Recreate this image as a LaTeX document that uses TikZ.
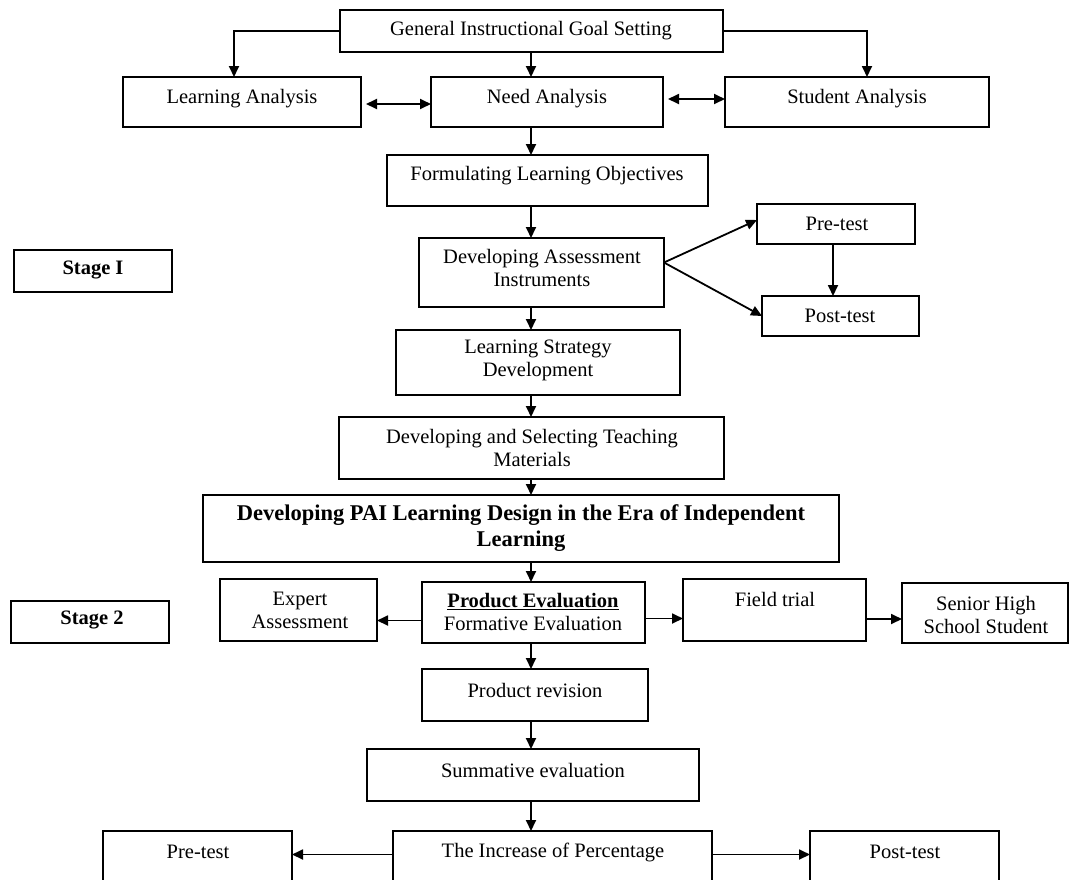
\documentclass[tikz,border=0pt]{standalone}
\usepackage{fontspec}
\setmainfont{Liberation Serif}
\usetikzlibrary{arrows.meta,calc}
\newcommand{\mybox}[5]{\node[box,minimum width={(#4)-(#2)},minimum height={(#5)-(#3)}] (#1) at ({((#2)+(#4))/2},{((#3)+(#5))/2}) {};}
\begin{document}
\begin{tikzpicture}[x=1pt,y=-1pt,
  box/.style={draw,line width=1.7pt,inner sep=0pt,outer sep=0pt},
  txt/.style={font=\fontsize{20.5}{23}\selectfont,align=center,inner sep=0pt},
  btxt/.style={font=\fontsize{20.5}{23}\selectfont\bfseries,align=center,inner sep=0pt},
  arr/.style={line width=1.8pt,-{Triangle[length=11pt,width=10pt]}},
  darr/.style={line width=1.8pt,{Triangle[length=11pt,width=10pt]}-{Triangle[length=11pt,width=10pt]}}]
\useasboundingbox (0,0) rectangle (1071,879);
\clip (0,0) rectangle (1071,879);
\fill[white] (0,0) rectangle (1071,879);
% boxes
\mybox{goal}{340}{10}{723}{52}
\mybox{la}{123}{77}{361}{127}
\mybox{na}{431}{77}{663}{127}
\mybox{sa}{725}{77}{989}{127}
\mybox{flo}{387}{155}{708}{206}
\mybox{dai}{419}{238}{664}{307}
\mybox{pre1}{757}{204}{915}{244}
\mybox{post1}{762}{296}{919}{336}
\mybox{stage1}{14}{250}{172}{292}
\mybox{lsd}{396}{330}{680}{395}
\mybox{dstm}{339}{417}{724}{479}
\mybox{dpai}{203}{495}{839}{562}
\mybox{stage2}{11}{601}{169}{643}
\mybox{ea}{220}{579}{377}{641}
\mybox{pe}{422}{582}{645}{643}
\mybox{ft}{683}{579}{866}{641}
\mybox{sh}{902}{583}{1068}{643}
\mybox{pr}{422}{669}{648}{721}
\mybox{se}{367}{749}{699}{801}
\mybox{iop}{393}{831}{712}{900}
\mybox{pre2}{103}{831}{292}{900}
\mybox{post2}{810}{831}{999}{900}
% texts
\node[txt] (t-goal) at (531,31) {General Instructional Goal Setting};
\node[txt] (t-la) at (242,99) {Learning Analysis};
\node[txt] (t-na) at (547,99) {Need Analysis};
\node[txt] (t-sa) at (857,99) {Student Analysis};
\node[txt] (t-flo) at (547,176) {Formulating Learning Objectives};
\node[txt] (t-dai) at (542,268) {Developing Assessment\\Instruments};
\node[txt] (t-pre1) at (837,224) {Pre-test};
\node[txt] (t-post1) at (840,316) {Post-test};
\node[btxt] (t-stage1) at (93,270) {Stage I};
\node[txt] (t-lsd) at (538,360) {Learning Strategy\\Development};
\node[txt] (t-dstm) at (532,448) {Developing and Selecting Teaching\\Materials};
\node[btxt,font=\fontsize{22.5}{26}\selectfont\bfseries] (t-dpai) at (521,528) {Developing PAI Learning Design in the Era of Independent\\Learning};
\node[btxt] (t-stage2) at (92,620) {Stage 2};
\node[txt] (t-ea) at (300,610) {Expert\\Assessment};
\node[txt] (t-pe) at (533,612) {\underline{\textbf{Product Evaluation}}\\Formative Evaluation};
\node[txt] (t-ft) at (775,599) {Field trial};
\node[txt] (t-sh) at (986,615) {Senior High\\School Student};
\node[txt] (t-pr) at (535,690) {Product revision};
\node[txt] (t-se) at (533,770) {Summative evaluation};
\node[txt] (t-iop) at (553,852) {The Increase of Percentage};
\node[txt] (t-pre2) at (198,852) {Pre-test};
\node[txt] (t-post2) at (905,852) {Post-test};
% connectors
\coordinate (ax) at (531,0);
\draw[arr] (goal.west) -| ([xshift=-8pt]la.north);
\draw[arr] (goal.east) -| ([xshift=10pt]sa.north);
\draw[arr] (ax |- goal.south) -- (ax |- na.north);
\draw[darr] ([xshift=5pt,yshift=-2pt]la.east) -- ([yshift=-2pt]na.west);
\draw[darr] ([xshift=5pt,yshift=3pt]na.east) -- ([yshift=3pt]sa.west);
\draw[arr] (ax |- na.south) -- (ax |- flo.north);
\draw[arr] (ax |- flo.south) -- (ax |- dai.north);
\draw[arr] ([yshift=10pt]dai.east) -- ([yshift=4pt]pre1.west);
\draw[arr] ([yshift=10pt]dai.east) -- (post1.west);
\draw[arr] ([xshift=-3pt]pre1.south) -- ([xshift=-3pt]pre1.south |- post1.north);
\draw[arr] (ax |- dai.south) -- (ax |- lsd.north);
\draw[arr] (ax |- lsd.south) -- (ax |- dstm.north);
\draw[arr] (ax |- dstm.south) -- (ax |- dpai.north);
\draw[arr] (ax |- dpai.south) -- (ax |- pe.north);
\draw[arr] ([yshift=-8pt]pe.west) -- ([yshift=-8pt]pe.west -| ea.east);
\draw[arr] ([yshift=-6pt]pe.east) -- ([yshift=-6pt]pe.east -| ft.west);
\draw[arr] ([yshift=-9pt]ft.east) -- ([yshift=-9pt]ft.east -| sh.west);
\draw[arr] (ax |- pe.south) -- (ax |- pr.north);
\draw[arr] (ax |- pr.south) -- (ax |- se.north);
\draw[arr] (ax |- se.south) -- (ax |- iop.north);
\draw[arr] ([yshift=11pt]iop.west) -- ([yshift=11pt]iop.west -| pre2.east);
\draw[arr] ([yshift=11pt]iop.east) -- ([yshift=11pt]iop.east -| post2.west);
\end{tikzpicture}
\end{document}
